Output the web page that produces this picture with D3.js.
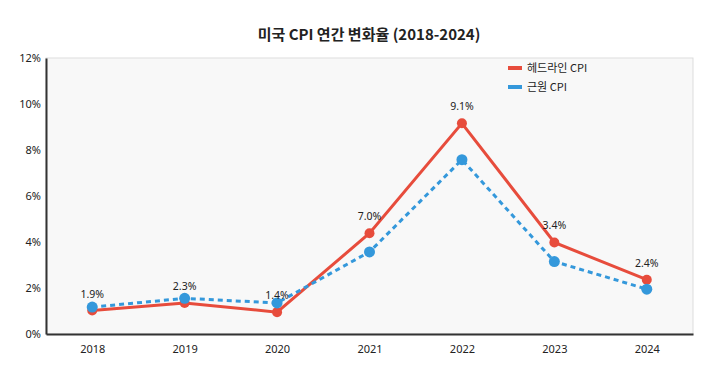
<!DOCTYPE html>
<html><head><meta charset="utf-8">
<script src="https://cdn.jsdelivr.net/npm/d3@7"></script>
<style>body{margin:0;background:#fff;}svg{display:block;font-family:"Noto Sans CJK KR","Noto Sans",sans-serif;}</style>
</head><body><svg id="c" width="719" height="385"></svg>
<script>
const years = ["2018","2019","2020","2021","2022","2023","2024"];
const headline = [1.02, 1.35, 0.95, 4.38, 9.16, 3.98, 2.36];
const core = [1.17, 1.55, 1.35, 3.57, 7.58, 3.15, 1.95];
const labels = ["1.9%","2.3%","1.4%","7.0%","9.1%","3.4%","2.4%"];
const yTicks = [0,2,4,6,8,10,12];
const seriesNames = ["헤드라인 CPI","근원 CPI"];

const svg = d3.select("#c");
const m = {l:46, t:58, r:693, b:334};
const x = d3.scalePoint().domain(years).range([m.l, m.r]).padding(0.5);
const y = d3.scaleLinear().domain([0,12]).range([m.b, m.t]);

svg.append("text").attr("x",369).attr("y",40).attr("text-anchor","middle")
  .attr("font-size",15).attr("font-weight","bold").attr("fill","#222").text("미국 CPI 연간 변화율 (2018-2024)");

svg.append("rect").attr("x",m.l).attr("y",m.t).attr("width",m.r-m.l).attr("height",m.b-m.t)
  .attr("fill","#f8f8f8").attr("stroke","#dddddd").attr("stroke-width",1);

const ya = svg.append("g").attr("transform",`translate(${m.l},0)`)
  .call(d3.axisLeft(y).tickValues(yTicks).tickSize(0).tickPadding(5).tickFormat(d=>d+"%"));
ya.select(".domain").attr("stroke","#333").attr("stroke-width",2);
ya.selectAll("text").attr("font-size",11).attr("fill","#222").attr("font-family","'Noto Sans','Noto Sans CJK KR',sans-serif");

const xa = svg.append("g").attr("transform",`translate(0,${m.b})`)
  .call(d3.axisBottom(x).tickSize(0).tickPadding(11));
xa.select(".domain").attr("stroke","#333").attr("stroke-width",2);
xa.selectAll("text").attr("font-size",11).attr("fill","#222").attr("font-family","'Noto Sans','Noto Sans CJK KR',sans-serif");

const line = d3.line().x((d,i)=>x(years[i])).y(d=>y(d));
svg.append("path").datum(headline).attr("d",line).attr("fill","none").attr("stroke","#e74c3c").attr("stroke-width",3);
svg.append("path").datum(core).attr("d",line).attr("fill","none").attr("stroke","#3498db").attr("stroke-width",3).attr("stroke-dasharray","5,4");

svg.selectAll(".hp").data(headline).enter().append("circle")
  .attr("cx",(d,i)=>x(years[i])).attr("cy",d=>y(d)).attr("r",5).attr("fill","#e74c3c");
svg.selectAll(".cp").data(core).enter().append("circle")
  .attr("cx",(d,i)=>x(years[i])).attr("cy",d=>y(d)).attr("r",5.5).attr("fill","#3498db");

svg.selectAll(".lb").data(labels).enter().append("text")
  .attr("x",(d,i)=>x(years[i])).attr("y",(d,i)=>y(headline[i])-13)
  .attr("text-anchor","middle").attr("font-size",10.5).attr("fill","#222")
  .attr("font-family","'Noto Sans','Noto Sans CJK KR',sans-serif").text(d=>d);

const colors = ["#e74c3c","#3498db"];
const lg = svg.append("g");
seriesNames.forEach((n,i)=>{
  lg.append("rect").attr("x",508).attr("y",66+i*19).attr("width",14).attr("height",4).attr("fill",colors[i]);
  lg.append("text").attr("x",527).attr("y",72+i*19).attr("font-size",11).attr("fill","#222").text(n);
});
</script></body></html>
